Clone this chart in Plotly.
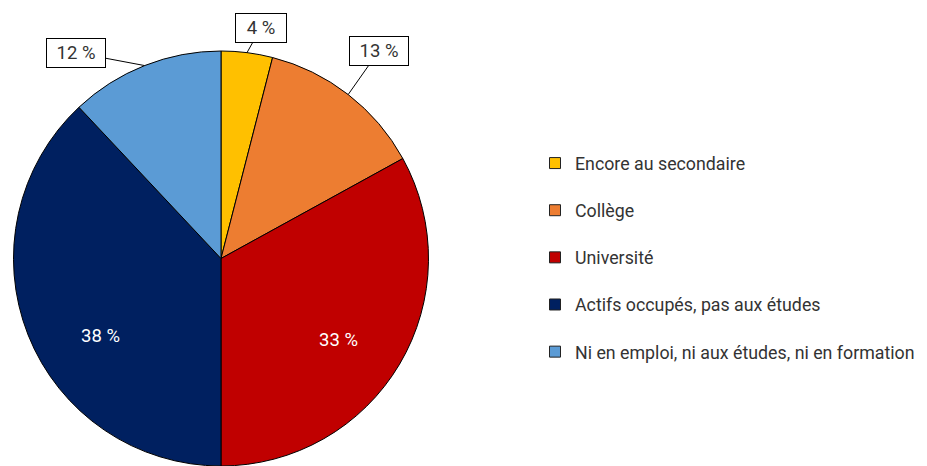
import math
import plotly.graph_objects as go

categories = [
    "Encore au secondaire",
    "Collège",
    "Université",
    "Actifs occupés, pas aux études",
    "Ni en emploi, ni aux études, ni en formation",
]
values = [4, 13, 33, 38, 12]
value_labels = ["4 %", "13 %", "33 %", "38 %", "12 %"]
colors = ["#FFC000", "#ED7D31", "#C00000", "#002060", "#5B9BD5"]

# label styling: ("out", ax, ay, boxwidth) or ("in", radial_fraction, angle_tweak_deg)
label_style = [
    ("out", 14, -25, 44),
    ("out", 31, -44, 52),
    ("in", 0.69, 4),
    ("in", 0.69, -11),
    ("out", -69, -13, 52),
]

FONT = "Roboto, Liberation Sans, sans-serif"
FS = 18.5
LEG_FS = 17.8
OFF = 8                     # page body margin
PW, PH = 927, 466           # page size
W, H = PW - OFF, PH - OFF   # figure size

def xp(px):
    return (px - OFF) / W

def yp(py):
    return 1 - (py - OFF) / H

top = 51
r = (PH - top) / 2
cx = 221
cy = top + r

fig = go.Figure()
fig.add_trace(go.Pie(
    labels=categories,
    values=values,
    sort=False,
    direction="clockwise",
    rotation=0,
    marker=dict(colors=colors, line=dict(color="#000000", width=1)),
    textinfo="none",
    hoverinfo="label+percent",
    showlegend=False,
    domain=dict(x=[xp(cx - r), xp(cx + r)], y=[0, yp(top)]),
))

for cat, col in zip(categories, colors):
    fig.add_trace(go.Scatter(
        x=[None], y=[None], mode="markers", name=cat, legendgroup=cat,
        marker=dict(symbol="square", size=11, color=col, line=dict(color="#222222", width=1)),
        showlegend=True,
    ))

total = sum(values)
cum = 0
annotations = []
for v, lab, st in zip(values, value_labels, label_style):
    mid = (cum + v / 2) / total * 360
    cum += v
    if st[0] == "out":
        a = math.radians(mid)
        px = cx + r * math.sin(a)
        py = cy - r * math.cos(a)
        annotations.append(dict(
            x=xp(px), y=yp(py), xref="paper", yref="paper",
            text=lab, showarrow=True, arrowhead=0, arrowwidth=1, arrowcolor="#000000",
            ax=st[1], ay=st[2], bgcolor="#FFFFFF", bordercolor="#000000", borderwidth=1,
            borderpad=3, width=st[3],
            font=dict(family=FONT, size=FS, color="#333333"),
        ))
    else:
        a = math.radians(mid + st[2])
        px = cx + st[1] * r * math.sin(a)
        py = cy - st[1] * r * math.cos(a)
        annotations.append(dict(
            x=xp(px), y=yp(py), xref="paper", yref="paper",
            xanchor="center", yanchor="middle",
            text=lab, showarrow=False,
            font=dict(family=FONT, size=FS, color="#FFFFFF"),
        ))

fig.update_layout(
    width=W, height=H,
    margin=dict(l=0, r=0, t=0, b=0, autoexpand=False),
    paper_bgcolor="#FFFFFF", plot_bgcolor="#FFFFFF",
    xaxis=dict(visible=False), yaxis=dict(visible=False),
    annotations=annotations,
    legend=dict(
        x=xp(535), y=yp(145), xanchor="left", yanchor="top",
        font=dict(family=FONT, size=LEG_FS, color="#333333"),
        tracegroupgap=21, bgcolor="rgba(0,0,0,0)",
    ),
    font=dict(family=FONT),
)

fig.write_html("out.html")
